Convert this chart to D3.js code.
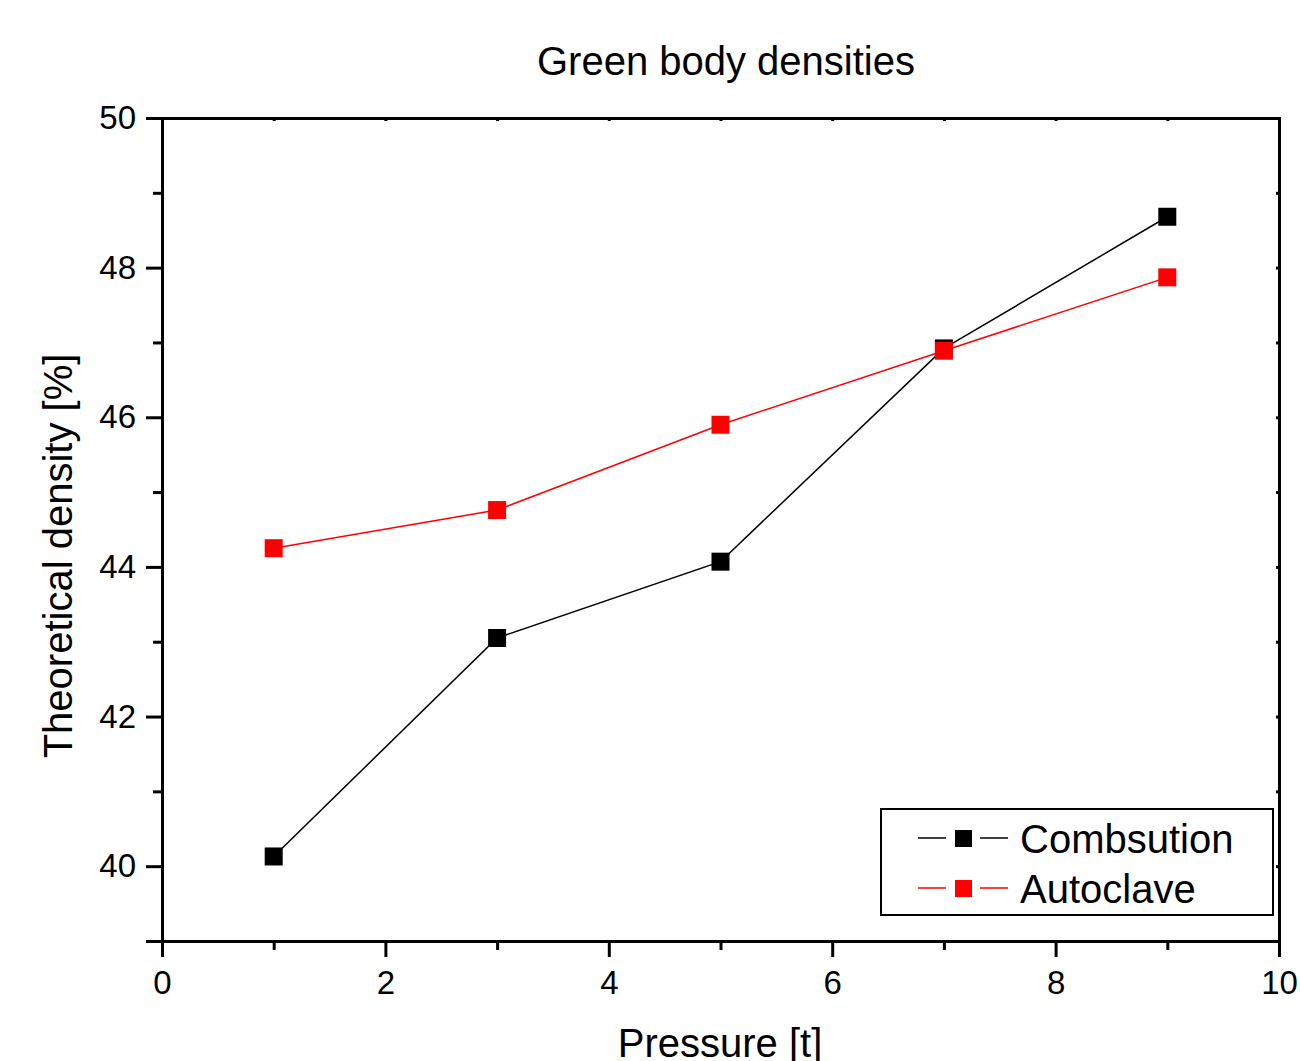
<!DOCTYPE html>
<html>
<head>
<meta charset="utf-8">
<script src="https://cdn.jsdelivr.net/npm/d3@7"></script>
<style>
  body { margin: 0; background: #fff; }
  text { font-family: "Liberation Sans", Arial, sans-serif; fill: #000; }
</style>
</head>
<body>
<svg id="chart" width="1300" height="1061"></svg>
<script>
// data
var pressure = [1, 3, 5, 7, 9];
var combustion = [40.13, 43.05, 44.07, 46.92, 48.68];
var autoclave = [44.25, 44.76, 45.90, 46.89, 47.87];
var xTicks = [0, 2, 4, 6, 8, 10];
var yTicks = [40, 42, 44, 46, 48, 50];

var series = [
  {name: "Combsution", values: combustion, color: "#000000"},
  {name: "Autoclave", values: autoclave, color: "#ff0000"}
];

var svg = d3.select("#chart");
var margin = {top: 118, right: 21, bottom: 120, left: 162};
var width = 1300 - margin.left - margin.right,
    height = 1061 - margin.top - margin.bottom;

var x = d3.scaleLinear().domain([0, 10]).range([0, width]);
var y = d3.scaleLinear().domain([39, 50]).range([height, 0]);

var g = svg.append("g").attr("transform", "translate(" + margin.left + "," + margin.top + ")");

// title
svg.append("text")
  .attr("x", 726).attr("y", 75)
  .attr("text-anchor", "middle")
  .style("font-size", "40px")
  .text("Green body densities");

// minor ticks
var xMinor = d3.range(1, 10, 2);
var yMinor = d3.range(39, 50, 2);

// bottom axis
var xAxis = g.append("g").attr("transform", "translate(0," + height + ")")
  .call(d3.axisBottom(x).tickValues(xTicks).tickSize(16).tickPadding(14).tickFormat(d3.format("d")));
xAxis.selectAll(".tick text").style("font-size", "33px");
g.append("g").attr("transform", "translate(0," + height + ")")
  .call(d3.axisBottom(x).tickValues(xMinor).tickSize(9).tickFormat(""))
  .select(".domain").remove();

// left axis
var yAxis = g.append("g")
  .call(d3.axisLeft(y).tickValues(yTicks).tickSize(16).tickPadding(10).tickFormat(d3.format("d")));
yAxis.selectAll(".tick text").style("font-size", "33px");
g.append("g")
  .call(d3.axisLeft(y).tickValues(yMinor).tickSize(9).tickFormat(""))
  .select(".domain").remove();

// top and right frame with small inner ticks
g.append("g")
  .call(d3.axisTop(x).tickValues(d3.range(0, 11)).tickSize(-3).tickFormat(""));
g.append("g").attr("transform", "translate(" + width + ",0)")
  .call(d3.axisRight(y).tickValues(d3.range(39, 51)).tickSize(-3).tickFormat(""));

g.selectAll(".domain").attr("stroke", "#000").attr("stroke-width", 3);
g.selectAll(".tick line").attr("stroke", "#000").attr("stroke-width", 3);

// axis labels
svg.append("text")
  .attr("x", 720).attr("y", 1057)
  .attr("text-anchor", "middle")
  .style("font-size", "40px")
  .text("Pressure [t]");

svg.append("text")
  .attr("transform", "translate(72,556) rotate(-90)")
  .attr("text-anchor", "middle")
  .style("font-size", "40px")
  .text("Theoretical density [%]");

// lines and markers
var line = d3.line()
  .x(function(d, i) { return x(pressure[i]); })
  .y(function(d) { return y(d); });

var ms = 18;
series.forEach(function(s) {
  g.append("path")
    .datum(s.values)
    .attr("fill", "none")
    .attr("stroke", s.color)
    .attr("stroke-width", 1.5)
    .attr("d", line);
  g.selectAll(null)
    .data(s.values)
    .enter().append("rect")
    .attr("x", function(d, i) { return x(pressure[i]) - ms / 2; })
    .attr("y", function(d) { return y(d) - ms / 2; })
    .attr("width", ms).attr("height", ms)
    .attr("fill", s.color);
});

// legend
var lg = svg.append("g").attr("transform", "translate(881,809)");
lg.append("rect")
  .attr("width", 392).attr("height", 106)
  .attr("fill", "#fff").attr("stroke", "#000").attr("stroke-width", 2);
series.forEach(function(s, i) {
  var cy = 29 + i * 50;
  lg.append("line").attr("x1", 37).attr("x2", 65).attr("y1", cy).attr("y2", cy)
    .attr("stroke", s.color).attr("stroke-width", 1.5);
  lg.append("line").attr("x1", 99).attr("x2", 127).attr("y1", cy).attr("y2", cy)
    .attr("stroke", s.color).attr("stroke-width", 1.5);
  lg.append("rect").attr("x", 74).attr("y", cy - 8).attr("width", 17).attr("height", 17)
    .attr("fill", s.color);
  lg.append("text").attr("x", 139).attr("y", cy + 15)
    .style("font-size", "40px")
    .text(s.name);
});
</script>
</body>
</html>
